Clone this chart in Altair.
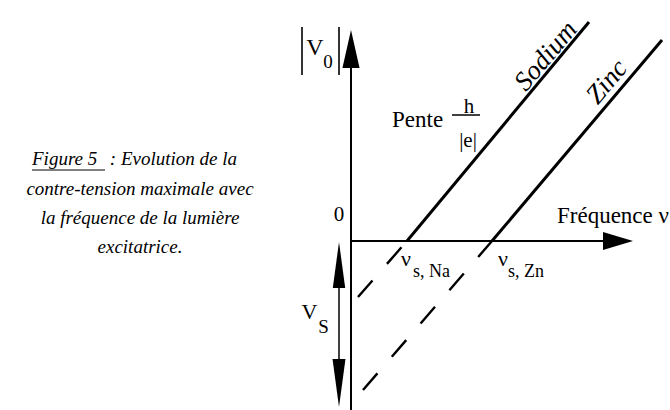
import altair as alt
import pandas as pd

FONT = "Liberation Serif"

# ---- values -------------------------------------------------------------
# frequency axis (ν) and stopping potential axis (|V0|), arbitrary units
metals = ["Sodium", "Zinc"]
nu_seuil = [0.56, 1.41]        # threshold frequency ν_s where |V0| = 0
nu_haut = [2.38, 3.11]         # upper end of the measured (solid) segment
v0_haut = [2.19, 2.01]         # |V0| at that upper end
nu_bas = [0.07, 0.12]          # lower end of the dashed extrapolation
v_bas = [-0.56, -1.49]         # value reached by the extrapolation

caption = [
    "Figure 5",
    ": Evolution de la",
    "contre-tension maximale avec",
    "la fréquence de la lumière",
    "excitatrice.",
]

# ---- scales (no drawn axes: the diagram draws its own arrows) ------------
xs = alt.Scale(domain=[-3.51, 3.19], nice=False, zero=False)
ys = alt.Scale(domain=[-1.69, 2.41], nice=False, zero=False)


def X(f="x"):
    return alt.X(f"{f}:Q", scale=xs, axis=None)


def Y(f="y"):
    return alt.Y(f"{f}:Q", scale=ys, axis=None)


# ---- lines ---------------------------------------------------------------
solid = pd.DataFrame(
    [{"metal": m, "x": a, "y": 0.0} for m, a in zip(metals, nu_seuil)]
    + [{"metal": m, "x": b, "y": c} for m, b, c in zip(metals, nu_haut, v0_haut)]
)
dashed = pd.DataFrame(
    [{"metal": m, "x": a, "y": 0.0} for m, a in zip(metals, nu_seuil)]
    + [{"metal": m, "x": b, "y": c} for m, b, c in zip(metals, nu_bas, v_bas)]
)

solid_lines = alt.Chart(solid).mark_line(color="black", strokeWidth=3).encode(
    x=X(), y=Y(), detail="metal:N"
)
dashed_lines = alt.Chart(dashed).mark_line(
    color="black", strokeWidth=2.4, strokeDash=[22, 22]
).encode(x=X(), y=Y(), detail="metal:N")


# ---- axes and arrows -----------------------------------------------------
def rule(x, y, x2, y2, w=2.0):
    df = pd.DataFrame([{"x": x, "y": y, "x2": x2, "y2": y2}])
    return alt.Chart(df).mark_rule(color="black", strokeWidth=w).encode(
        x=X(), y=Y(), x2="x2:Q", y2="y2:Q"
    )


# arrowhead shapes with the tip at the anchor point
UP = "M0,0L-0.45,2L0.45,2Z"
RIGHT = "M0,0L-2,-0.6L-2,0.6Z"
UP_THIN = "M0,0L-0.27,2L0.27,2Z"
DOWN_THIN = "M0,0L-0.27,-2L0.27,-2Z"


def head(x, y, path, length):
    df = pd.DataFrame([{"x": x, "y": y}])
    return alt.Chart(df).mark_point(
        shape=path, size=length * length, filled=True, color="black",
        opacity=1, strokeWidth=0
    ).encode(x=X(), y=Y())


axes = [
    rule(0, -1.69, 0, 1.95),          # |V0| axis
    head(0, 2.11, UP, 38),
    rule(0, 0, 2.7, 0),               # frequency axis
    head(2.82, 0, RIGHT, 30),
    rule(-0.12, -0.2, -0.12, -1.45, w=1.5),   # V_S double arrow
    head(-0.12, -0.01, UP_THIN, 46),
    head(-0.12, -1.66, DOWN_THIN, 48),
    rule(-0.49, 2.14, -0.49, 1.66, w=1.6),    # |V0| bars
    rule(-0.12, 2.14, -0.12, 1.66, w=1.6),
    rule(1.01, 1.26, 1.29, 1.26, w=1.5),      # fraction bar of h/|e|
]


# ---- labels --------------------------------------------------------------
def label(text, x, y, size, align="center", baseline="middle",
          italic=False, angle=0):
    df = pd.DataFrame([{"x": x, "y": y, "t": text}])
    kw = dict(font=FONT, fontSize=size, align=align, baseline=baseline)
    if italic:
        kw["fontStyle"] = "italic"
    if angle:
        kw["angle"] = angle
    return alt.Chart(df).mark_text(**kw).encode(x=X(), y=Y(), text="t:N")


labels = [
    label("V", -0.36, 1.93, 24),
    label("0", -0.23, 1.79, 19),
    label("0", -0.12, 0.26, 21),
    label("Fréquence ν", 2.06, 0.18, 23, align="left", baseline="alphabetic"),
    label("Pente", 0.41, 1.14, 23, align="left", baseline="alphabetic"),
    label("h", 1.18, 1.28, 21, baseline="alphabetic"),
    label("|e|", 1.17, 0.94, 21, baseline="alphabetic"),
    label("Sodium", 1.95, 1.85, 27, italic=True, angle=310),
    label("Zinc", 2.56, 1.59, 27, italic=True, angle=310),
    label("ν", 0.55, -0.18, 22),
    label("s, Na", 0.62, -0.31, 18, align="left"),
    label("ν", 1.52, -0.18, 22),
    label("s, Zn", 1.57, -0.31, 18, align="left"),
    label("V", -0.415, -0.71, 22),
    label("S", -0.275, -0.86, 19),
    # caption
    label(caption[0], -3.19, 0.76, 19, align="left", baseline="alphabetic",
          italic=True),
    label(caption[1], -1.14, 0.76, 19, align="right", baseline="alphabetic",
          italic=True),
    label(caption[2], -2.11, 0.46, 19, baseline="alphabetic", italic=True),
    label(caption[3], -2.11, 0.17, 19, baseline="alphabetic", italic=True),
    label(caption[4], -2.11, -0.12, 19, baseline="alphabetic", italic=True),
    rule(-3.19, 0.71, -2.46, 0.71, w=1.2),   # underline of "Figure 5"
]

chart = alt.layer(solid_lines, dashed_lines, *axes, *labels).properties(
    width=670,
    height=410,
    autosize=alt.AutoSizeParams(type="none"),
    padding=0,
    view=alt.ViewBackground(stroke=None),
)

chart.save("out.html", embed_options={"renderer": "svg", "actions": False})
